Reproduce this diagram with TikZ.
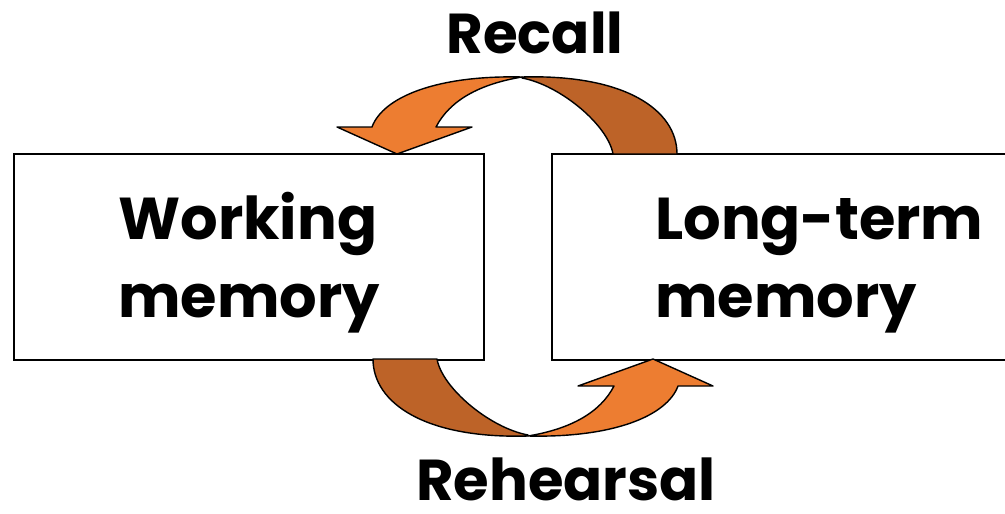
\documentclass[tikz,border=0pt]{standalone}
\usepackage{fontspec}
\setmainfont{Poppins}
\definecolor{arrowfront}{HTML}{ED7D31}
\definecolor{arrowback}{HTML}{BD6328}
\tikzset{box style/.style={
		draw=black,
		line width=0.9pt,
		fill=white,
		rectangle,
		minimum width=11.75cm,
		minimum height=5.15cm,
		inner sep=0pt,
	},
	box text style/.style={
		font=\bfseries\fontsize{42}{55}\selectfont,
		align=left,
		anchor=base west,
		inner sep=0pt,
	},
	label style/.style={
		font=\bfseries\fontsize{#1}{#1}\selectfont,
		anchor=base,
		inner sep=0pt,
	},
	arrow front/.style={
		draw=black,
		line width=1pt,
		line join=round,
		fill=arrowfront,
	},
	arrow back/.style={
		draw=black,
		line width=1pt,
		line join=round,
		fill=arrowback,
	}
}

\begin{document}
\begin{tikzpicture}[x=0.025cm,y=-0.025cm]
	\useasboundingbox (0,0) rectangle (1005,513);
	
	\node[box style] (Working) at (249,257) {};
	\node[box style] (LongTerm) at (787,257) {};
	\node[box text style] (WorkingText) at (118,317) {Working\\memory};
	\node[box text style] (LongTermText) at (655,317) {Long-term\\memory};
	
	\node[label style=40] (Recall) at (535,53) {Recall};
	\node[label style=41] (Rehearsal) at (566,500) {Rehearsal};
	
	\path[arrow back] (522,77) .. controls (625,74) and (677,110) .. (677,154)
		-- (613,154) .. controls (608,125) and (560,85) .. (522,78) -- cycle;
	\path[arrow front] (372,127) .. controls (383,97) and (437,75) .. (522,77)
		.. controls (480,84) and (450,100) .. (436,127)
		-- (472,127) -- (397,154) -- (337,127) -- cycle;
	
	\begin{scope}[rotate around={180:(525,256.5)}]
		\path[arrow back] (522,77) .. controls (625,74) and (677,110) .. (677,154)
			-- (613,154) .. controls (608,125) and (560,85) .. (522,78) -- cycle;
		\path[arrow front] (372,127) .. controls (383,97) and (437,75) .. (522,77)
			.. controls (480,84) and (450,100) .. (436,127)
			-- (472,127) -- (397,154) -- (337,127) -- cycle;
	\end{scope}
\end{tikzpicture}
\end{document}
